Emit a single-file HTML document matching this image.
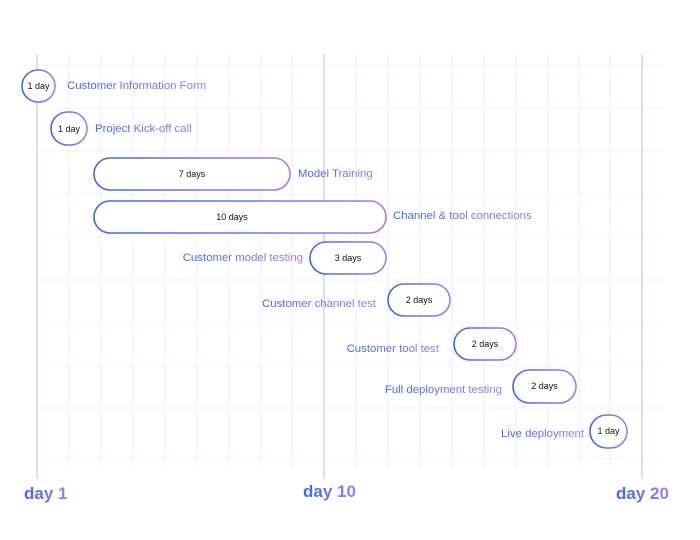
<!DOCTYPE html>
<html><head><meta charset="utf-8"><style>
html,body{margin:0;padding:0;background:#fff;}
svg{display:block;}
text{font-family:"Liberation Sans",sans-serif;}
.l{font-size:11.4px;fill:url(#g);}
.d{font-size:9px;fill:#111;text-anchor:middle;}
.b{fill:#fff;stroke:url(#g);stroke-width:1.6;}
.ax{font-size:17px;font-weight:bold;fill:url(#g);}
</style></head><body>
<svg width="700" height="540" viewBox="0 0 700 540">
<defs>
<linearGradient id="g" x1="0" y1="0" x2="1" y2="0">
<stop offset="0" stop-color="#3a68f2"/><stop offset="1" stop-color="#a37cf4"/>
</linearGradient>
</defs>
<g stroke="#f1f1fd" stroke-width="1">
<line x1="37" y1="65" x2="664" y2="65"/><line x1="37" y1="108" x2="664" y2="108"/>
<line x1="37" y1="151" x2="664" y2="151"/><line x1="37" y1="194" x2="664" y2="194"/>
<line x1="37" y1="237" x2="664" y2="237"/><line x1="37" y1="280" x2="664" y2="280"/>
<line x1="37" y1="323" x2="664" y2="323"/><line x1="37" y1="366" x2="664" y2="366"/>
<line x1="37" y1="408" x2="664" y2="408"/><line x1="37" y1="458" x2="664" y2="458"/>
</g>
<g stroke="#eeeefc" stroke-width="1">
<line x1="69" y1="55" x2="69" y2="466"/><line x1="101" y1="55" x2="101" y2="466"/>
<line x1="133" y1="55" x2="133" y2="466"/><line x1="165" y1="55" x2="165" y2="466"/>
<line x1="197" y1="55" x2="197" y2="466"/><line x1="229" y1="55" x2="229" y2="466"/>
<line x1="261" y1="55" x2="261" y2="466"/><line x1="292" y1="55" x2="292" y2="466"/>
<line x1="356" y1="55" x2="356" y2="466"/><line x1="388" y1="55" x2="388" y2="466"/>
<line x1="420" y1="55" x2="420" y2="466"/><line x1="452" y1="55" x2="452" y2="466"/>
<line x1="484" y1="55" x2="484" y2="466"/><line x1="516" y1="55" x2="516" y2="466"/>
<line x1="548" y1="55" x2="548" y2="466"/><line x1="579" y1="55" x2="579" y2="466"/>
<line x1="610" y1="55" x2="610" y2="466"/>
</g>
<g stroke="#c4c0f7" stroke-width="1.1">
<line x1="37" y1="54" x2="37" y2="479"/><line x1="324" y1="54" x2="324" y2="479"/><line x1="642" y1="54" x2="642" y2="479"/>
</g>
<rect class="b" x="22" y="70" width="33" height="32" rx="16"/><text class="d" x="38.5" y="89">1 day</text>
<text class="l" x="67" y="89">Customer Information Form</text>
<rect class="b" x="51" y="112" width="36" height="33" rx="16.5"/><text class="d" x="69" y="132">1 day</text>
<text class="l" x="95" y="132">Project Kick-off call</text>
<rect class="b" x="94" y="158" width="196" height="32" rx="16"/><text class="d" x="192" y="177">7 days</text>
<text class="l" x="298" y="177">Model Training</text>
<rect class="b" x="94" y="201" width="292" height="32" rx="16"/><text class="d" x="232" y="220">10 days</text>
<text class="l" x="393" y="219">Channel &amp; tool connections</text>
<rect class="b" x="310" y="242" width="76" height="32" rx="16"/><text class="d" x="348" y="261">3 days</text>
<text class="l" x="303" y="261" text-anchor="end">Customer model testing</text>
<rect class="b" x="388" y="284" width="62" height="32" rx="16"/><text class="d" x="419" y="303">2 days</text>
<text class="l" x="376" y="307" text-anchor="end">Customer channel test</text>
<rect class="b" x="454" y="328" width="62" height="32" rx="16"/><text class="d" x="485" y="347">2 days</text>
<text class="l" x="439" y="352" text-anchor="end">Customer tool test</text>
<rect class="b" x="513" y="370" width="63" height="33" rx="16.5"/><text class="d" x="544.5" y="389">2 days</text>
<text class="l" x="502" y="393" text-anchor="end">Full deployment testing</text>
<rect class="b" x="590" y="415" width="37" height="33" rx="16.5"/><text class="d" x="608.5" y="434">1 day</text>
<text class="l" x="584" y="437" text-anchor="end">Live deployment</text>
<text class="ax" x="24" y="499">day 1</text>
<text class="ax" x="303" y="497">day 10</text>
<text class="ax" x="616" y="499">day 20</text>
</svg>
</body></html>
